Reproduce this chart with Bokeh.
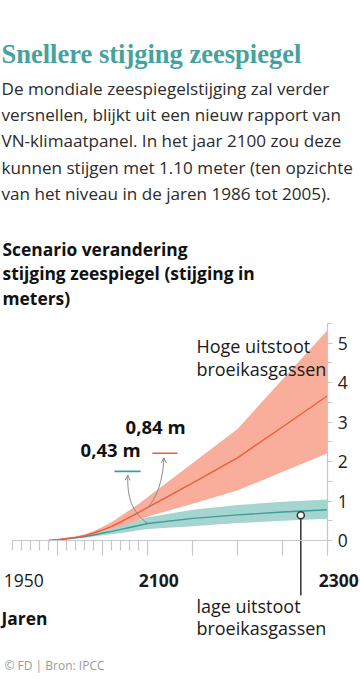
from bokeh.plotting import figure
from bokeh.models import FixedTicker, Label, Arrow, OpenHead, Range1d
from bokeh.embed import file_html
from bokeh.resources import INLINE
from bokeh.core.properties import value

# ---------------- data ----------------
years = [1990, 2000, 2010, 2020, 2030, 2040, 2050, 2060, 2070, 2080, 2090, 2100, 2150, 2200, 2250, 2300]
high_mid = [0.0, 0.02, 0.05, 0.08, 0.12, 0.19, 0.27, 0.36, 0.47, 0.59, 0.71, 0.84, 1.46, 2.10, 2.88, 3.67]
high_lo = [0.0, 0.01, 0.03, 0.06, 0.09, 0.14, 0.20, 0.26, 0.34, 0.42, 0.51, 0.61, 0.93, 1.27, 1.74, 2.21]
high_hi = [0.0, 0.03, 0.07, 0.11, 0.16, 0.24, 0.35, 0.47, 0.62, 0.77, 0.93, 1.10, 1.96, 2.83, 4.09, 5.33]
low_mid = [0.0, 0.02, 0.04, 0.07, 0.10, 0.14, 0.19, 0.23, 0.28, 0.33, 0.38, 0.43, 0.56, 0.65, 0.72, 0.78]
low_lo = [0.0, 0.01, 0.03, 0.05, 0.07, 0.10, 0.13, 0.16, 0.19, 0.22, 0.26, 0.29, 0.36, 0.44, 0.50, 0.55]
low_hi = [0.0, 0.03, 0.06, 0.09, 0.13, 0.18, 0.24, 0.30, 0.37, 0.43, 0.51, 0.59, 0.78, 0.90, 0.98, 1.04]

x_major_ticks = [2000, 2050, 2100, 2150, 2200, 2250, 2300]
x_minor_ticks = [1950, 1960, 1970, 1980, 1990, 2010, 2020, 2030, 2040, 2060, 2070, 2080, 2090]
x_label_years = [1950, 2100, 2300]
x_label_texts = ["1950", "2100", "2300"]
x_label_bold = [False, True, True]
y_major_ticks = [0, 1, 2, 3, 4, 5]
y_minor_ticks = [0.5, 1.5, 2.5, 3.5, 4.5, 5.5]

value_2100_low = 0.43
value_2100_high = 0.84
marker_year = 2270
marker_value = 0.64

title = "Snellere stijging zeespiegel"
intro = ["De mondiale zeespiegelstijging zal verder",
         "versnellen, blijkt uit een nieuw rapport van",
         "VN-klimaatpanel. In het jaar 2100 zou deze",
         "kunnen stijgen met 1.10 meter (ten opzichte",
         "van het niveau in de jaren 1986 tot 2005)."]
subtitle = ["Scenario verandering", "stijging zeespiegel (stijging in", "meters)"]
high_label = ["Hoge uitstoot", "broeikasgassen"]
low_label = ["lage uitstoot", "broeikasgassen"]
x_title = "Jaren"
footer = "\u00a9 FD | Bron: IPCC"

# ---------------- layout ----------------
W, H = 360, 699
px_per_year = 0.9
x1950_px = 12.3
px_per_m = 39.5
zero_from_bottom = H - 540
x_start = 1950 - x1950_px / px_per_year
x_end = x_start + W / px_per_year
y_start = -zero_from_bottom / px_per_m
y_end = y_start + H / px_per_m

RED_BAND = "#f8ae9b"
RED_LINE = "#ee5b3d"
TEAL_BAND = "#a6d5d0"
TEAL_LINE = "#3c9c96"
AXIS = "#c4c8cc"
SANS = "Open Sans"

p = figure(width=W, height=H, x_range=Range1d(x_start, x_end), y_range=Range1d(y_start, y_end),
           output_backend="svg", toolbar_location=None, min_border=0,
           outline_line_color=None, y_axis_location="right", background_fill_color="white",
           border_fill_color="white")
p.grid.visible = False

xa = p.xaxis[0]
xa.fixed_location = 0
xa.bounds = (1950, 2300)
xa.ticker = FixedTicker(ticks=x_major_ticks, minor_ticks=x_minor_ticks)
xa.axis_line_color = AXIS
xa.axis_line_width = 1.2
xa.major_tick_line_color = AXIS
xa.minor_tick_line_color = AXIS
xa.major_tick_line_width = 1.2
xa.minor_tick_line_width = 1.2
xa.major_tick_in = 0
xa.major_tick_out = 15
xa.minor_tick_in = 0
xa.minor_tick_out = 10
xa.major_label_text_font_size = "0px"
xa.major_label_overrides = {t: "" for t in x_major_ticks}

ya = p.yaxis[0]
ya.fixed_location = 2300
ya.bounds = (0, 5.5)
ya.ticker = FixedTicker(ticks=y_major_ticks, minor_ticks=y_minor_ticks)
ya.axis_line_color = AXIS
ya.axis_line_width = 1.2
ya.major_tick_line_color = AXIS
ya.minor_tick_line_color = AXIS
ya.major_tick_in = 0
ya.major_tick_out = 5
ya.minor_tick_in = 0
ya.minor_tick_out = 5
ya.major_label_standoff = 5
ya.major_label_text_font = SANS
ya.major_label_text_font_size = "17.5px"
ya.major_label_text_color = "#222222"

# bands and lines
p.varea(x=years, y1=high_lo, y2=high_hi, fill_color=RED_BAND)
p.varea(x=years, y1=low_lo, y2=low_hi, fill_color=TEAL_BAND)
p.line(years, low_mid, line_color=TEAL_LINE, line_width=1.4)
p.line(years, high_mid, line_color=RED_LINE, line_width=1.4)

# x labels
for yr, t, b in zip(x_label_years, x_label_texts, x_label_bold):
    p.text(x=[yr], y=[0], text=[t], x_offset=11, y_offset=40, text_align="center",
           text_baseline="alphabetic", text_font=value(SANS), text_font_size="17.5px",
           text_font_style="bold" if b else "normal", text_color="#1a1a1a")

# annotations: curved pointers
GREY = "#8a8a8a"
p.bezier(x0=[2100], y0=[value_2100_low], x1=[2077.8], y1=[1.65],
         cx0=[2082], cy0=[0.72], cx1=[2077], cy1=[1.1], line_color=GREY, line_width=1)
p.bezier(x0=[2100], y0=[value_2100_high], x1=[2117.8], y1=[2.09],
         cx0=[2109], cy0=[1.05], cx1=[2117], cy1=[1.5], line_color=GREY, line_width=1)
p.add_layout(Arrow(x_start=2077.6, y_start=1.45, x_end=2077.8, y_end=1.65, line_alpha=0,
                   end=OpenHead(size=5, line_color=GREY, line_width=1)))
p.add_layout(Arrow(x_start=2117.6, y_start=1.85, x_end=2117.8, y_end=2.09, line_alpha=0,
                   end=OpenHead(size=5, line_color=GREY, line_width=1)))
p.segment(x0=[2063], y0=[1.75], x1=[2092], y1=[1.75], line_color=TEAL_LINE, line_width=1.6)
p.segment(x0=[2105], y0=[2.21], x1=[2133], y1=[2.21], line_color=RED_LINE, line_width=1.6)
p.add_layout(Label(x=2092, y=1.98, text="0,43 m", text_align="right",
                   text_font=SANS, text_font_size="18.5px", text_font_style="bold", text_color="#111111"))
p.add_layout(Label(x=2142, y=2.58, text="0,84 m", text_align="right",
                   text_font=SANS, text_font_size="18.5px", text_font_style="bold", text_color="#111111"))

# marker for low scenario
p.segment(x0=[marker_year], y0=[marker_value], x1=[marker_year], y1=[-1.39], line_color="#333333", line_width=1.5)
p.scatter(x=[marker_year], y=[marker_value], size=7, marker="circle", fill_color="white",
          line_color="#333333", line_width=1.5)

for i, t in enumerate(high_label):
    p.add_layout(Label(x=2154, y=4.61 - i * 0.56, text=t, text_font=SANS, text_font_size="18px",
                       text_color="#1a1a1a"))
for i, t in enumerate(low_label):
    p.add_layout(Label(x=2154, y=-1.95 - i * 0.58, text=t, text_font=SANS, text_font_size="18px",
                       text_color="#1a1a1a"))

# header / footer in screen units (from bottom)
def scr(label_text, x, y_top, size, style="normal", color="#222222", font=SANS):
    p.add_layout(Label(x=x, y=H - y_top, x_units="screen", y_units="screen", text=label_text,
                       text_font=font, text_font_size=size, text_font_style=style,
                       text_color=color, text_baseline="alphabetic"))

scr(title, 1, 53, "26.5px", "bold", "#45a29e", "Liberation Serif")
for i, t in enumerate(intro):
    scr(t, 1, 88 + i * 26.2, "17.1px", "normal", "#2b2b2b")
for i, t in enumerate(subtitle):
    scr(t, 2, 248.3 + i * 24.4, "17.4px", "bold", "#111111")
scr(x_title, 1, 617, "17.4px", "bold", "#111111")
scr(footer, 4, 665, "12px", "normal", "#9a9a9a")

open("out.html", "w").write(file_html(p, INLINE))
